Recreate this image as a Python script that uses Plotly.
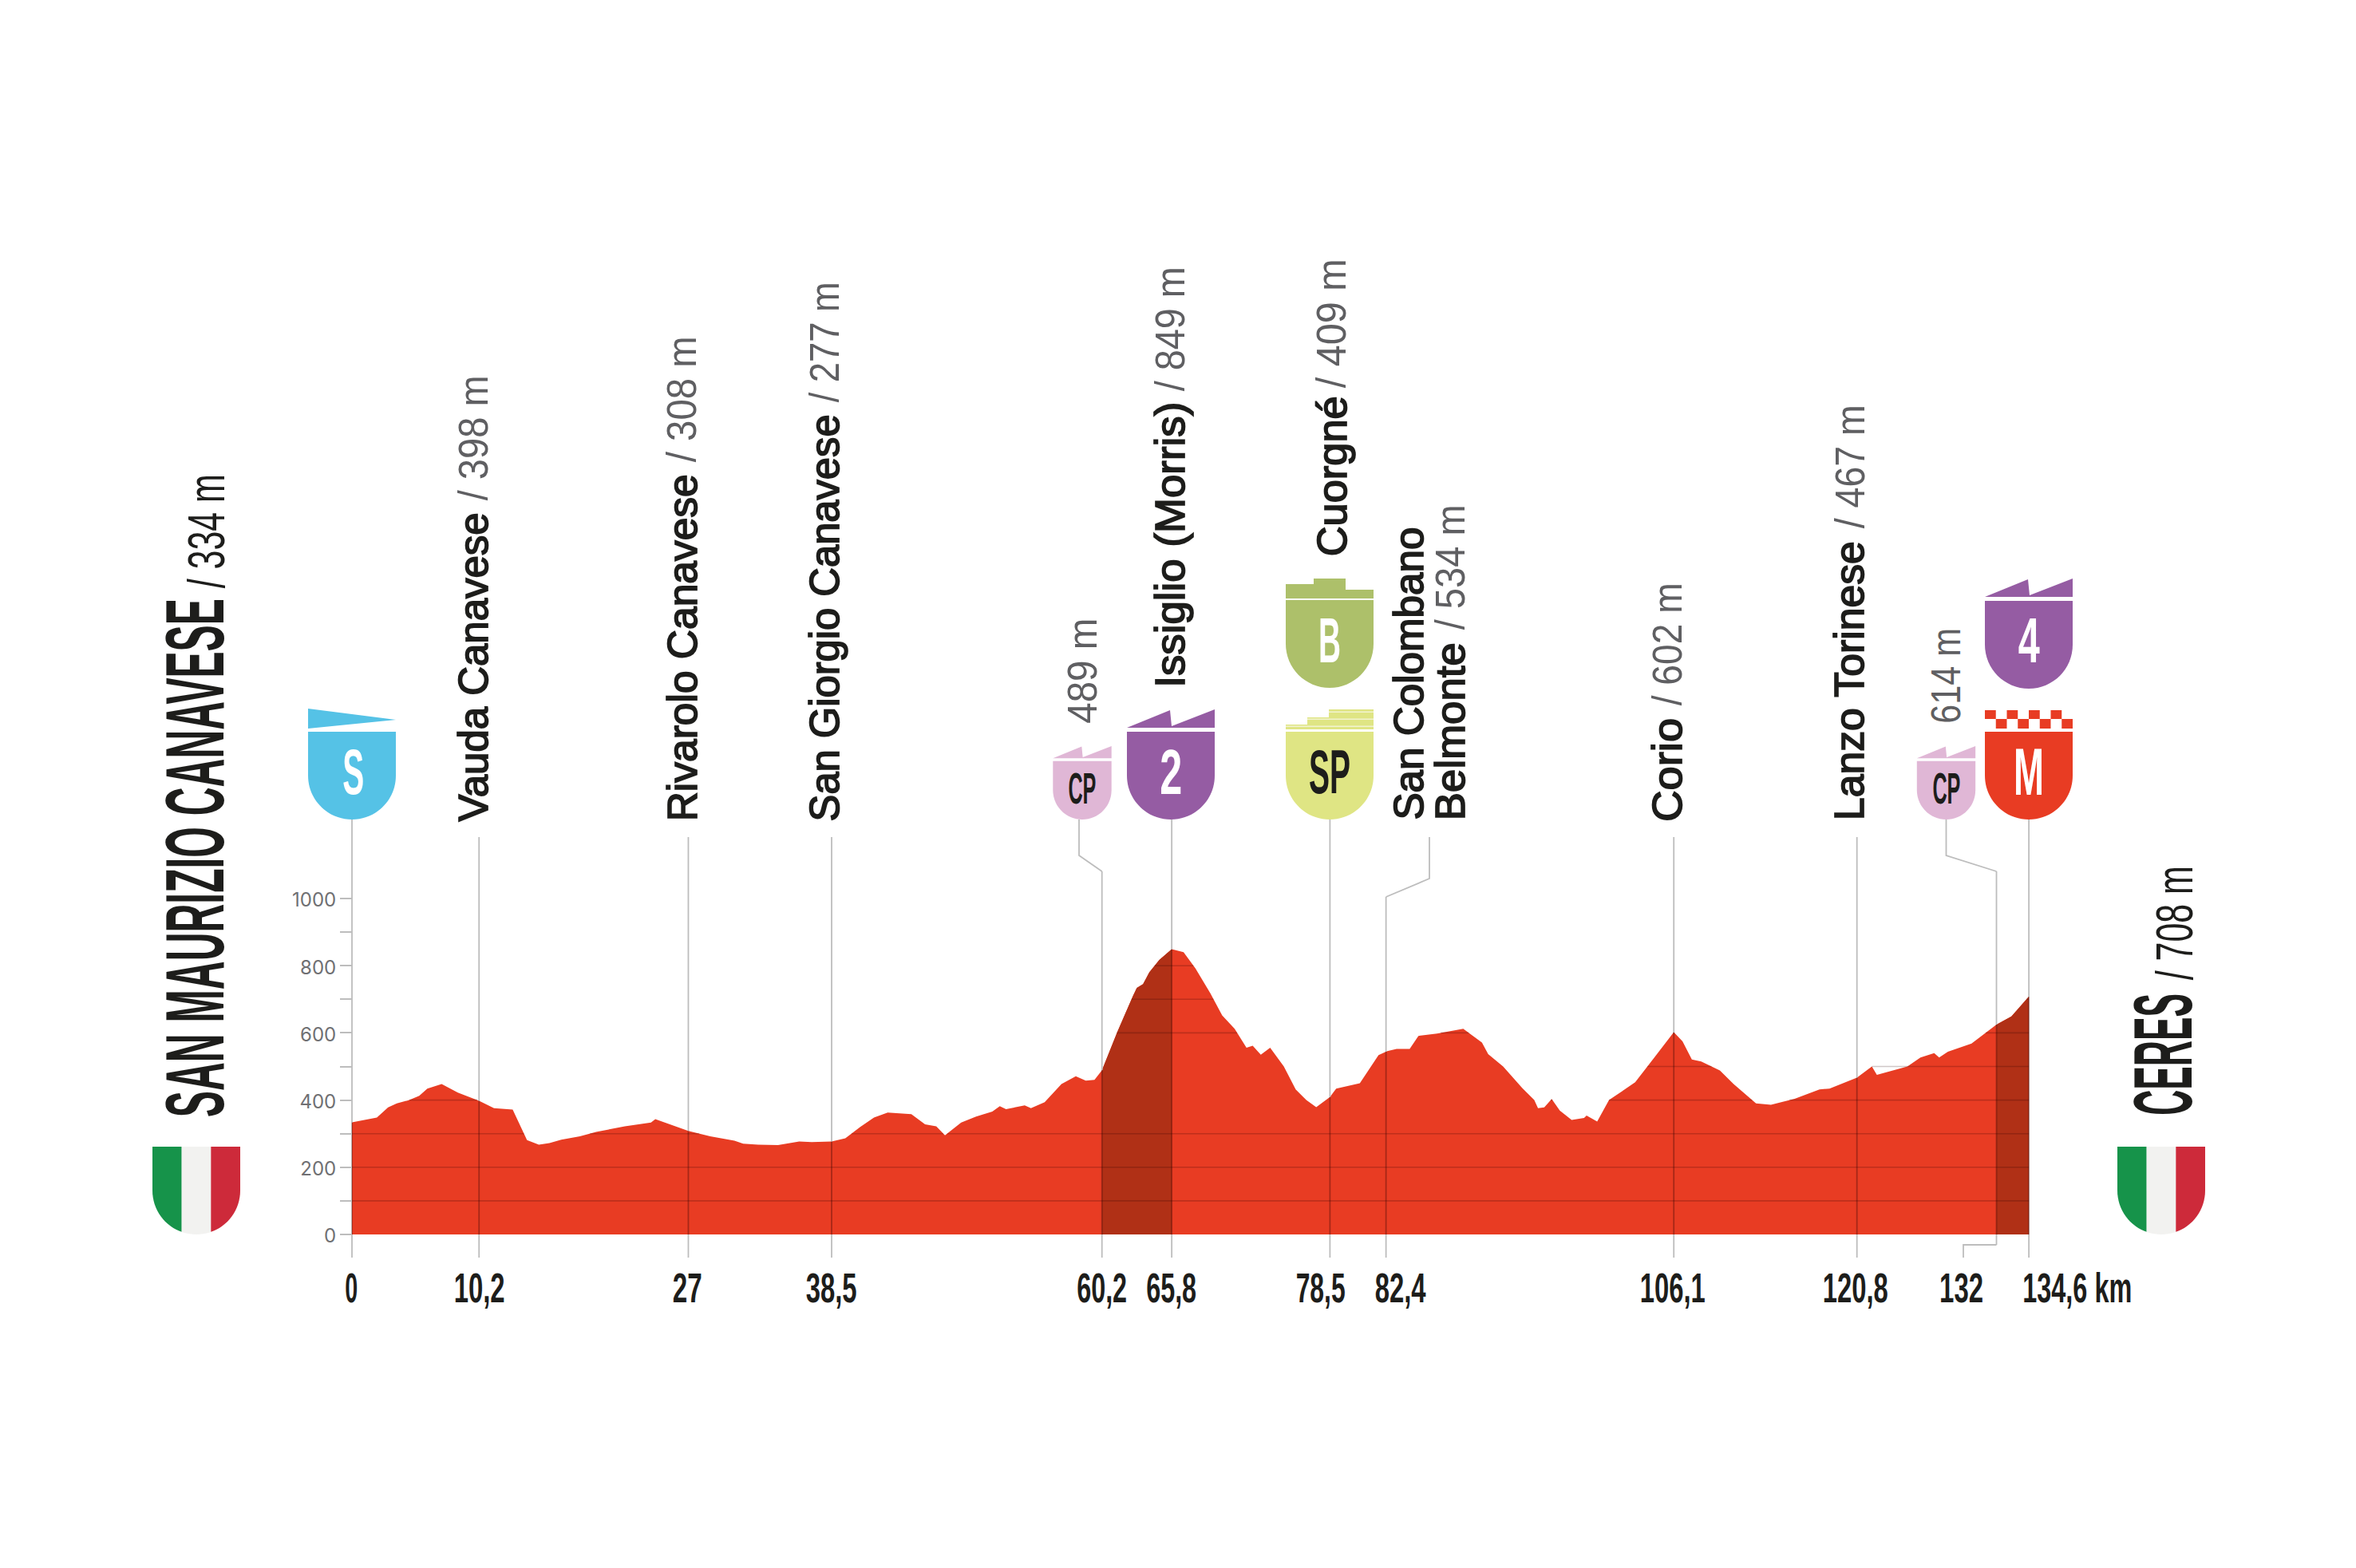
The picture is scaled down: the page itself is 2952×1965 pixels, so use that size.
import json
import numpy as np
import plotly.graph_objects as go

W, H = 2952, 1965
KM_ZERO_PX, PX_PER_KM = 441.0, 15.61
M_ZERO_PY, PX_PER_M = 1547.0, 0.421

# ---- data ----
km = [0, 2.0, 2.9, 3.6, 4.6, 5.4, 6.05, 7.2, 8.5, 10.2, 11.4, 12.9, 14.05, 15.0, 15.85, 16.8, 18.3, 19.6, 21.9, 24.0,
      24.35, 27, 28.75, 30.7, 31.4, 32.6, 34.2, 35.9, 36.9, 38.5, 39.6, 40.8, 41.9, 43.0, 44.9, 46.0, 46.9, 47.6,
      48.9, 50.1, 51.4, 52.0, 52.5, 54.0, 54.5, 55.6, 56.95, 58.1, 58.9, 59.6, 60.2, 61.4, 62.7, 63.0, 63.5, 64.0,
      64.8, 65.8, 66.75, 67.7, 68.9, 69.85, 70.85, 71.8, 72.3, 72.95, 73.7, 74.8, 75.75, 76.6, 77.4, 78.5, 79.0,
      80.9, 82.4, 83.1, 83.85, 84.9, 85.6, 87.1, 89.2, 90.7, 91.2, 92.4, 93.95, 94.9, 95.2, 95.7, 96.3, 96.95,
      97.9, 98.9, 99.1, 99.95, 100.9, 103, 104.5, 106.1, 106.8, 107.55, 108.3, 109.8, 110.9, 112.7, 113.9, 115.8,
      117.8, 118.6, 120.8, 121.6, 122, 122.4, 124.85, 125.9, 127, 127.4, 128.1, 130, 132, 133.2, 134.6]
elevation = [334, 348, 378, 390, 400, 413, 434, 448, 422, 398, 376, 372, 281, 267, 272, 282, 292, 305, 322, 333,
             343, 308, 292, 279, 270, 267, 266, 277, 275, 277, 286, 320, 348, 363, 358, 328, 322, 295,
             333, 351, 366, 382, 373, 384, 376, 394, 448, 471, 458, 460, 489, 600, 711, 734, 745, 780,
             817, 849, 840, 792, 718, 652, 612, 556, 562, 535, 556, 500, 432, 400, 379, 409, 434,
             450, 534, 546, 552, 552, 591, 598, 612, 571, 537, 500, 435, 400, 376, 378, 403, 369,
             341, 347, 354, 336, 400, 453, 525, 602, 575, 521, 515, 488, 448, 390, 386, 404,
             432, 434, 467, 488, 500, 475, 500, 527, 540, 527, 544, 568, 625, 649, 708]

climb_bands = [(60.2, 65.8), (132, 134.6)]
y_ticks = [0, 100, 200, 300, 400, 500, 600, 700, 800, 900, 1000]
y_tick_labels = ["0", "", "200", "", "400", "", "600", "", "800", "", "1000"]

marker_km_short = [10.2, 27, 38.5, 106.1, 120.8]
marker_km_tall = [0, 65.8, 78.5, 134.6]
colombano_stem_km = 83.0

x_labels = ["0", "10,2", "27", "38,5", "60,2", "65,8", "78,5", "82,4", "106,1", "120,8", "132", "134,6 km"]
x_label_cx = [440, 600, 861, 1041, 1380, 1467, 1655, 1755, 2096, 2325, 2457, 2603]
x_label_len = [16, 64, 37, 64, 63, 63, 62, 64, 82, 82, 55, 137]

places = [
    ("Vauda Canavese", "/ 398 m", 592, 1030, 643, 628, 471),
    ("Rivarolo Canavese", "/ 308 m", 854, 1030, 595, 580, 422),
    ("San Giorgio Canavese", "/ 277 m", 1033, 1030, 520, 505, 354),
    ("Issiglio (Morris)", "/ 849 m", 1466, 862, 504, 491, 335),
    ("Cuorgné", "/ 409 m", 1668, 698, 497, 487, 325),
    ("Belmonte", "/ 534 m", 1816, 1028, 805, 790, 633),
    ("Corio", "/ 602 m", 2089, 1030, 900, 885, 731),
    ("Lanzo Torinese", "/ 467 m", 2317, 1028, 678, 663, 508),
]

INK, SOFT = "#1d1d1b", "#5f5f62"
RED, DARK = "#e83c23", "#b03016"
PURPLE, PINK, LIME, OLIVE, SKY = "#955ca3", "#e0b7d6", "#dfe584", "#adc06a", "#55c2e6"


def X(px):
    return (px - KM_ZERO_PX) / PX_PER_KM


def Y(py):
    return (M_ZERO_PY - py) / PX_PER_M


fig = go.Figure()


def line(xs, ys, color, width=1.8):
    fig.add_trace(go.Scatter(x=xs, y=ys, mode="lines", line=dict(color=color, width=width),
                             hoverinfo="skip", showlegend=False))


km_a, el_a = np.array(km, float), np.array(elevation, float)
fig.add_trace(go.Scatter(x=km, y=elevation, mode="lines", line=dict(width=0), fill="tozeroy",
                         fillcolor=RED, hoverinfo="skip", showlegend=False))
for a, b in climb_bands:
    m = (km_a >= a) & (km_a <= b)
    fig.add_trace(go.Scatter(x=km_a[m], y=el_a[m], mode="lines", line=dict(width=0), fill="tozeroy",
                             fillcolor=DARK, hoverinfo="skip", showlegend=False))

gx, gy = [], []
for level in y_ticks[1:]:
    start = None
    for i in range(len(km) - 1):
        x0, x1, e0, e1 = km_a[i], km_a[i + 1], el_a[i], el_a[i + 1]
        if e0 >= level and start is None:
            start = x0
        if (e0 - level) * (e1 - level) < 0:
            cross = x0 + (level - e0) / (e1 - e0) * (x1 - x0)
            if e1 < level:
                gx += [start, cross, None]
                gy += [level, level, None]
                start = None
            else:
                start = cross
    if start is not None:
        gx += [start, km[-1], None]
        gy += [level, level, None]
line(gx, gy, "rgba(40,0,0,0.22)", 1.6)

GREY = "#bdbdbd"
INNER = "rgba(40,0,0,0.34)"


def stem(k, top_py, bottom_py=1576):
    e = float(np.interp(k, km_a, el_a))
    line([k, k], [e, Y(top_py)], GREY)
    line([k, k], [0, e], INNER)
    line([k, k], [0, Y(bottom_py)], GREY)


for k in marker_km_short:
    stem(k, 1049)
for k in marker_km_tall:
    stem(k, 1027)
stem(60.2, 1092)
stem(colombano_stem_km, 1124)
stem(132, 1092, 1560)
line([X(1352), X(1352), 60.2], [Y(1027), Y(1072), Y(1092)], GREY)
line([X(1791), X(1791), colombano_stem_km], [Y(1049), Y(1101), Y(1124)], GREY)
line([X(2438.5), X(2438.5), 132], [Y(1027), Y(1072), Y(1092)], GREY)
line([132, X(2460), X(2460)], [Y(1560), Y(1560), Y(1576)], GREY)
shapes = []


def path_shape(anchor_px, anchor_py, path, color):
    shapes.append(dict(type="path", xref="x", yref="y", xsizemode="pixel", ysizemode="pixel",
                       xanchor=X(anchor_px), yanchor=Y(anchor_py), path=path,
                       fillcolor=color, line=dict(width=0), layer="above"))


def poly(points):
    return "M" + " L".join(f"{a:.2f},{b:.2f}" for a, b in points) + " Z"


def shield(cx, bottom, color, s=1.0):
    r = 55 * s
    t = 110 * s
    c = r * 0.5523
    p = (f"M{-r:.2f},{t:.2f} L{r:.2f},{t:.2f} L{r:.2f},{r:.2f} "
         f"C{r:.2f},{r - c:.2f} {c:.2f},0 0,0 C{-c:.2f},0 {-r:.2f},{r - c:.2f} {-r:.2f},{r:.2f} Z")
    path_shape(cx, bottom, p, color)


def teeth(cx, bottom, color, s=1.0):
    pts = [(-55, 115), (-1, 137), (1, 117), (55, 138), (55, 115)]
    path_shape(cx, bottom, poly([(a * s, b * s) for a, b in pts]), color)


shield(441, 1027, SKY)
path_shape(441, 1027, poly([(-55, 139), (55, 125), (-55, 114)]), SKY)
shield(1467, 1027, PURPLE)
teeth(1467, 1027, PURPLE)
shield(2542, 863, PURPLE)
teeth(2542, 863, PURPLE)
shield(1356, 1027, PINK, 0.667)
teeth(1356, 1027, PINK, 0.667)
shield(2438.5, 1027, PINK, 0.667)
teeth(2438.5, 1027, PINK, 0.667)
shield(1666, 862, OLIVE)
path_shape(1666, 862, poly([(-55, 112), (-55, 130), (-20, 130), (-20, 137), (20, 137), (20, 123), (55, 123), (55, 112)]), OLIVE)
shield(1666, 1027, LIME)
path_shape(1666, 1027, poly([(-55, 113), (-55, 119), (-28, 119), (-28, 128), (-1, 128), (-1, 138), (55, 138), (55, 113)]), LIME)
for yy, x_from in [(116, -55), (125, -28), (134, -1)]:
    path_shape(1666, 1027, poly([(x_from, yy), (55, yy), (55, yy + 1.5), (x_from, yy + 1.5)]), "#f2f3cf")
shield(2542, 1027, RED)
for col in range(4):
    a = -55 + col * 27.5
    path_shape(2542, 1027, poly([(a, 137), (a + 13.75, 137), (a + 13.75, 126), (a, 126)]), RED)
    path_shape(2542, 1027, poly([(a + 13.75, 126), (a + 27.5, 126), (a + 27.5, 114), (a + 13.75, 114)]), RED)


def flag(cx, bottom):
    r = 55.0
    th = np.linspace(0, np.pi, 41)
    ax = -r * np.cos(th)
    ay = r - r * np.sin(th)
    third = r / 3
    for lo, hi, color in [(-r, -third, "#16934a"), (-third, third, "#f2f2f0"), (third, r, "#cd2a3a")]:
        m = (ax >= lo) & (ax <= hi)
        arc = list(zip(ax[m], ay[m]))
        ylo = r - np.sqrt(r * r - lo * lo)
        yhi = r - np.sqrt(r * r - hi * hi)
        pts = [(lo, 110), (hi, 110), (hi, yhi)] + arc[::-1] + [(lo, ylo)]
        path_shape(cx, bottom, poly(pts), color)


flag(246, 1547)
flag(2708, 1547)

# ---- text ----
annotations, lengths, strokes = [], [], []
SANS = "Liberation Sans"


def text(t, cx, cy, size, length, family=SANS, color=INK, weight="normal", angle=-90, stroke=0):
    annotations.append(dict(text=t, x=cx / W, y=1 - cy / H, xref="paper", yref="paper", showarrow=False,
                            xanchor="center", yanchor="middle", textangle=angle, borderpad=0, borderwidth=0,
                            font=dict(family=family, size=size, color=color, weight=weight)))
    lengths.append(length)
    strokes.append(stroke)


def vert(t, cx, start, end, size, **kw):
    text(t, cx, (start + end) / 2, size, abs(start - end), **kw)


for name, alt, cx, s0, s1, a0, a1 in places:
    vert(name, cx, s0, s1, 52, stroke=1.7)
    vert(alt, cx, a0, a1, 52, color=SOFT)
vert("San Colombano", 1765, 1028, 661, 52, stroke=1.7)
vert("489 m", 1356, 907, 775, 52, color=SOFT)
vert("614 m", 2438, 907, 787, 52, color=SOFT)

vert("SAN MAURIZIO CANAVESE", 244, 1400, 750, 104, weight="bold")
vert("/ 334 m", 258, 738, 595, 64, color=INK)
vert("CERES", 2709, 1398, 1245, 104, weight="bold")
vert("/ 708 m", 2724, 1229, 1086, 64, color=INK)

for lab, cx, ln in zip(x_labels, x_label_cx, x_label_len):
    text(lab, cx, 1614, 51, ln, weight="bold", angle=0)

for lab, cx, cy, size, ln, color in [
    ("S", 442, 967, 80, 27, "white"), ("2", 1467, 968, 80, 28, "white"), ("4", 2542, 802, 80, 27, "white"),
    ("B", 1666, 802, 80, 28, "white"), ("SP", 1666, 967, 78, 52, INK), ("M", 2542, 967, 84, 38, "white"),
    ("CP", 1356, 987, 56, 35, INK), ("CP", 2438.5, 987, 56, 35, INK),
]:
    text(lab, cx, cy, size, ln, weight="bold", color=color, angle=0)

fig.update_layout(
    width=W, height=H, margin=dict(l=0, r=0, t=0, b=0), autosize=False,
    paper_bgcolor="white", plot_bgcolor="white", showlegend=False,
    shapes=shapes, annotations=annotations,
    xaxis=dict(range=[X(0), X(W)], visible=False, fixedrange=True),
    yaxis=dict(range=[Y(H), Y(0)], anchor="free", position=KM_ZERO_PX / W, side="left",
               tickmode="array", tickvals=y_ticks, ticktext=y_tick_labels,
               ticks="outside", ticklen=15, tickwidth=1.6, tickcolor=GREY, ticklabelshift=2,
               tickfont=dict(family="Inter", size=24, color="#707073", weight=400),
               showgrid=False, zeroline=False, showline=False, fixedrange=True),
)

post = """
document.body.style.margin = '0';
document.documentElement.style.overflow = 'hidden';
var L = %s, K = %s;
document.querySelectorAll('.annotation').forEach(function (g) {
  var i = +g.getAttribute('data-index');
  var t = g.querySelector('text');
  if (t && L[i]) {
    t.setAttribute('textLength', L[i]);
    t.setAttribute('lengthAdjust', 'spacingAndGlyphs');
    if (K[i]) { t.style.stroke = '#1d1d1b'; t.style.strokeWidth = K[i] + 'px'; }
    var r = g.querySelector('rect.bg');
    if (r) {
      var w0 = +r.getAttribute('width');
      r.setAttribute('x', (+r.getAttribute('x') || 0) + (w0 - L[i]) / 2);
      r.setAttribute('width', L[i]);
    }
  }
});
""" % (json.dumps(lengths), json.dumps(strokes))

fig.write_html("out.html", post_script=post, config={"displayModeBar": False})
